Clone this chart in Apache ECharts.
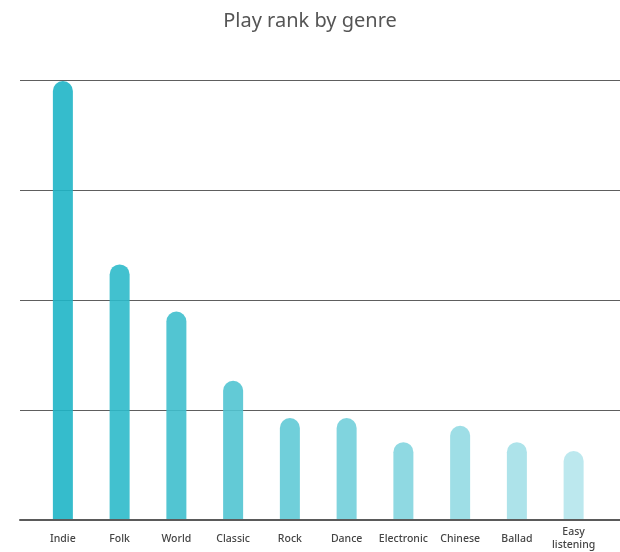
<!DOCTYPE html>
<html>
<head>
<meta charset="utf-8">
<script src="https://cdn.jsdelivr.net/npm/echarts@6/dist/echarts.min.js"></script>
<style>html,body{margin:0;padding:0;background:#fff;}#c{width:620px;height:552px;}</style>
</head>
<body>
<div id="c"></div>
<script>
const genres = ['Indie', 'Folk', 'World', 'Classic', 'Rock', 'Dance', 'Electronic', 'Chinese', 'Ballad', 'Easy\nlistening'];
const plays = [399, 232, 189, 126, 92, 92, 70, 85, 70, 62];
const palette = ['#1fb5c6', '#2ebaca', '#3fbfcd', '#51c4d1', '#61cad6', '#72cfda', '#83d5df', '#93dae3', '#a4e0e8', '#b5e5ec'];

const chart = echarts.init(document.getElementById('c'));
chart.setOption({
  animation: false,
  backgroundColor: '#fff',
  title: {
    text: 'Play rank by genre',
    left: 'center',
    top: 6,
    textStyle: { fontFamily: 'Noto Sans', fontSize: 20, fontWeight: 'normal', color: '#555' }
  },
  grid: [
    { left: 20, right: 0, top: 80, bottom: 32 },
    { left: 34.5, right: 18, top: 80, bottom: 32 }
  ],
  xAxis: [
    {
      gridIndex: 0, type: 'value', min: 0, max: 1,
      axisLine: { show: true, lineStyle: { color: '#5a5a5a', width: 2 } },
      axisTick: { show: false }, axisLabel: { show: false }, splitLine: { show: false }
    },
    {
      gridIndex: 1, type: 'category', data: genres,
      axisLine: { show: false }, axisTick: { show: false },
      axisLabel: {
        interval: 0, margin: 20, verticalAlign: 'middle', lineHeight: 13,
        fontFamily: 'Noto Sans', fontSize: 10.5, fontWeight: 500, color: '#444'
      }
    }
  ],
  yAxis: [
    {
      gridIndex: 0, type: 'value', min: 0, max: 400, interval: 100,
      axisLine: { show: false }, axisTick: { show: false }, axisLabel: { show: false },
      splitLine: { show: true, lineStyle: { color: '#5e5e5e', width: 1 } }
    },
    {
      gridIndex: 1, type: 'value', min: 0, max: 400, interval: 100,
      axisLine: { show: false }, axisTick: { show: false }, axisLabel: { show: false },
      splitLine: { show: false }
    }
  ],
  series: [{
    type: 'bar',
    xAxisIndex: 1, yAxisIndex: 1,
    barWidth: 20,
    data: plays.map((v, i) => ({ value: v, itemStyle: { color: palette[i] } })),
    itemStyle: { borderRadius: [10, 10, 0, 0], opacity: 0.9 }
  }]
});
</script>
</body>
</html>
